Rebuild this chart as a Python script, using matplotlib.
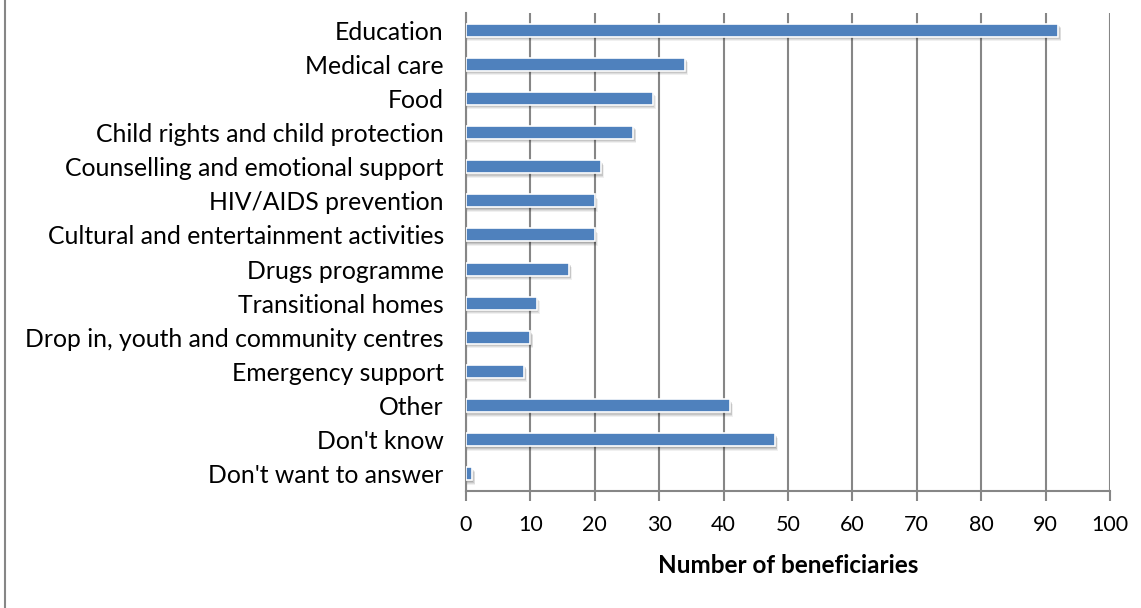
import matplotlib
matplotlib.use("Agg")
import matplotlib.pyplot as plt
from matplotlib.lines import Line2D

categories = ["Education", "Medical care", "Food", "Child rights and child protection",
              "Counselling and emotional support", "HIV/AIDS prevention",
              "Cultural and entertainment activities", "Drugs programme",
              "Transitional homes", "Drop in, youth and community centres",
              "Emergency support", "Other", "Don't know", "Don't want to answer"]
values = [92, 34, 29, 26, 21, 20, 20, 16, 11, 10, 9, 41, 48, 1]
xticks = list(range(0, 101, 10))
xlabel = "Number of beneficiaries"

plt.rcParams['font.family'] = ['Lato', 'DejaVu Sans']

fig = plt.figure(figsize=(11.41, 6.08), dpi=100)
ax = fig.add_axes([466/1141, 1-491/608, (1110-466)/1141, (491-13)/608])

ypos = list(range(len(categories)))
bh = 0.38
# soft drop shadow
for dy, dx, a in [(0.13, 0.45, 0.06), (0.10, 0.35, 0.08), (0.07, 0.25, 0.10), (0.04, 0.15, 0.12)]:
    ax.barh([y + dy for y in ypos], [v + dx for v in values], height=bh, left=0,
            color='black', alpha=a, linewidth=0, zorder=2)
ax.barh(ypos, values, height=bh, color='#4f81bd', edgecolor='white', linewidth=1.2, zorder=3)

ax.set_xlim(0, 100)
ax.set_ylim(len(categories) - 0.5, -0.5)
ax.set_xticks(xticks)
ax.set_xticklabels([str(t) for t in xticks], fontsize=15.5)
ax.set_yticks(ypos)
ax.set_yticklabels(categories, fontsize=17.8)
ax.tick_params(axis='y', length=0, pad=16)
ax.tick_params(axis='x', length=7, width=1.5, color='#868686', pad=10)
ax.xaxis.grid(True, color='#868686', linewidth=1.5, zorder=0)
ax.set_axisbelow(True)
for s in ['top', 'right']:
    ax.spines[s].set_visible(False)
for s in ['left', 'bottom']:
    ax.spines[s].set_color('#868686')
    ax.spines[s].set_linewidth(1.5)
ax.set_xlabel(xlabel, fontsize=17.5, fontweight='bold', labelpad=14)

fig.add_artist(Line2D([4.5/1141, 4.5/1141], [0, 1], color='#868686', linewidth=1.5,
                      transform=fig.transFigure))
fig.savefig("out.png", dpi=100)
